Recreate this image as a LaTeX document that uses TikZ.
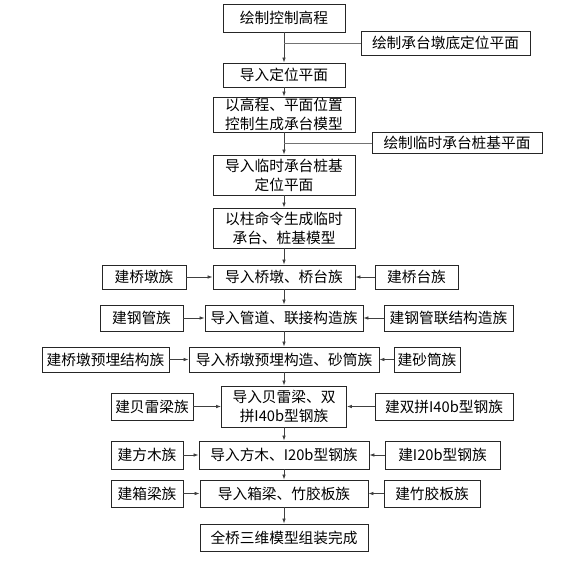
\documentclass[tikz,border=0pt]{standalone}
\usepackage{fontspec}
\newfontfamily\cjk{Noto Sans CJK SC}
\usetikzlibrary{arrows.meta}

\begin{document}
\begin{tikzpicture}[x=1pt,y=-1pt,
  stepbox/.style={rectangle,draw=black!85,line width=0.8pt,inner sep=1pt,align=center,
    font=\cjk\fontsize{14.7}{19}\selectfont},
  flow/.style={-{Latex[length=5pt,width=3.5pt]},line width=0.7pt,draw=black!75},
  joinline/.style={line width=0.7pt,draw=black!55}]
\useasboundingbox (0,0) rectangle (588,560);
% main column
\node[stepbox,minimum width=122,minimum height=28] (ctrl) at (284,18) {绘制控制高程};
\node[stepbox,minimum width=122,minimum height=24] (imp1) at (284,75) {导入定位平面};
\node[stepbox,minimum width=142,minimum height=35] (mod1) at (284,114.5) {以高程、平面位置\\控制生成承台模型};
\node[stepbox,minimum width=142,minimum height=40] (imp2) at (284,175) {导入临时承台桩基\\定位平面};
\node[stepbox,minimum width=142,minimum height=40] (mod2) at (284,228) {以柱命令生成临时\\承台、桩基模型};
\node[stepbox,minimum width=142,minimum height=24] (pier) at (284,277) {导入桥墩、桥台族};
\node[stepbox,minimum width=158,minimum height=26] (pipe) at (284,318) {导入管道、联接构造族};
\node[stepbox,minimum width=190,minimum height=25] (embd) at (284,359.5) {导入桥墩预埋构造、砂筒族};
\node[stepbox,minimum width=125,minimum height=41] (beam) at (284,406.5) {导入贝雷梁、双\\拼I40b型钢族};
\node[stepbox,minimum width=170,minimum height=28] (wood) at (284,455) {导入方木、I20b型钢族};
\node[stepbox,minimum width=168,minimum height=27] (box) at (284,493.5) {导入箱梁、竹胶板族};
\node[stepbox,minimum width=168,minimum height=27] (done) at (284,537.5) {全桥三维模型组装完成};
% right side plans
\node[stepbox,minimum width=169,minimum height=24] (plan1) at (445.5,43) {绘制承台墩底定位平面};
\node[stepbox,minimum width=170,minimum height=21] (plan2) at (457,143) {绘制临时承台桩基平面};
% family boxes
\node[stepbox,minimum width=84,minimum height=24] (pierL) at (144,277) {建桥墩族};
\node[stepbox,minimum width=83,minimum height=24] (pierR) at (416.5,277) {建桥台族};
\node[stepbox,minimum width=83,minimum height=26] (pipeL) at (141.5,318) {建钢管族};
\node[stepbox,minimum width=129,minimum height=26] (pipeR) at (448.5,318) {建钢管联结构造族};
\node[stepbox,minimum width=127,minimum height=25] (embdL) at (105.5,359.5) {建桥墩预埋结构族};
\node[stepbox,minimum width=66,minimum height=25] (embdR) at (427,359.5) {建砂筒族};
\node[stepbox,minimum width=82,minimum height=27] (beamL) at (152,406.5) {建贝雷梁族};
\node[stepbox,minimum width=138,minimum height=27] (beamR) at (444,406.5) {建双拼I40b型钢族};
\node[stepbox,minimum width=72,minimum height=28] (woodL) at (147,455) {建方木族};
\node[stepbox,minimum width=115,minimum height=28] (woodR) at (442.5,455) {建I20b型钢族};
\node[stepbox,minimum width=72,minimum height=27] (boxL) at (147,493.5) {建箱梁族};
\node[stepbox,minimum width=96,minimum height=27] (boxR) at (432,493.5) {建竹胶板族};

% vertical flow
\foreach \a/\b in {ctrl/imp1,imp1/mod1,mod1/imp2,imp2/mod2,mod2/pier,pier/pipe,pipe/embd,embd/beam,beam/wood,wood/box,box/done}
  \draw[flow] (\a.south) -- (\b.north);
% plans joining the column
\draw[joinline] (plan1.west) -- (plan1.west -| ctrl.south);
\draw[joinline] (plan2.west) -- (plan2.west -| mod1.south);
% families into the column
\foreach \m in {pier,pipe,embd,beam,wood,box} {
  \draw[flow] (\m L) -- (\m);
  \draw[flow] (\m R) -- (\m);
}
\end{tikzpicture}
\end{document}
